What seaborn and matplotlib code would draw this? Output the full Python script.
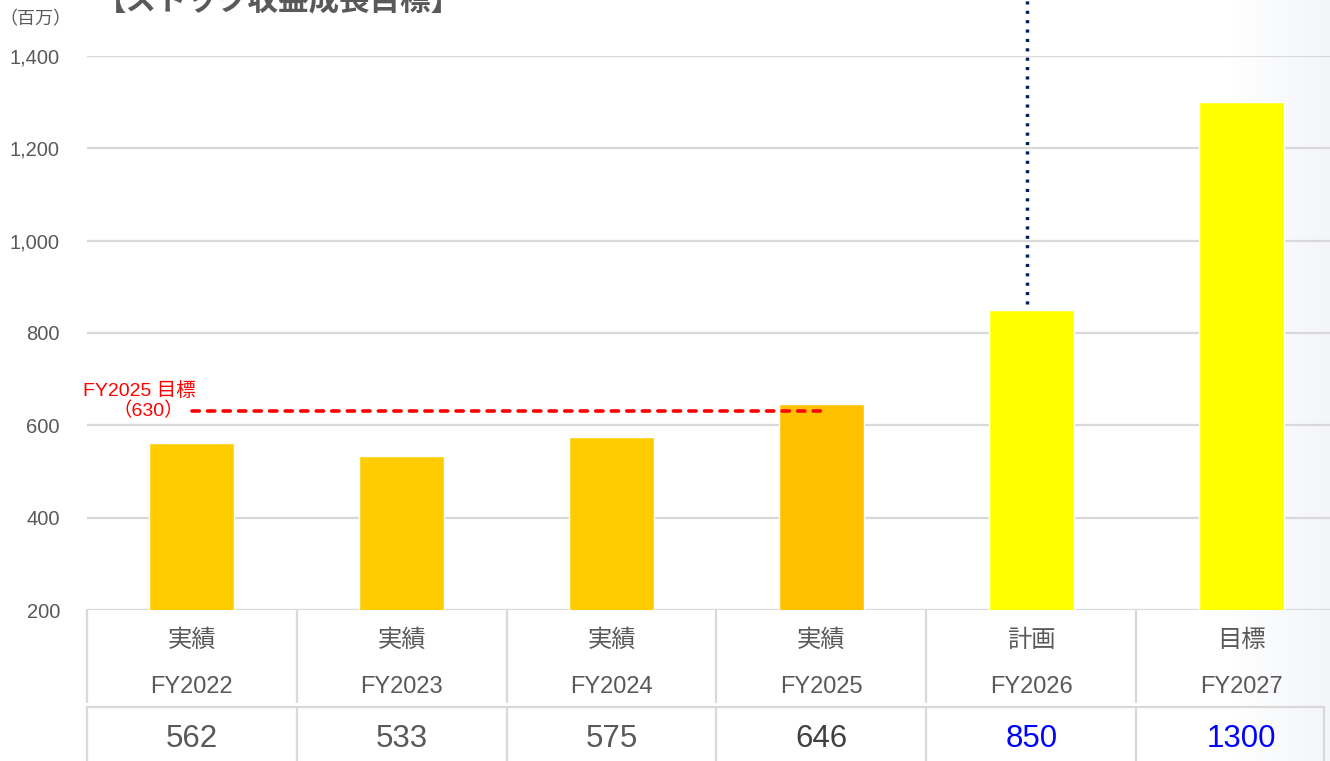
import numpy as np
import pandas as pd
import matplotlib
matplotlib.use("Agg")
import matplotlib.pyplot as plt
from matplotlib.colors import LinearSegmentedColormap
import seaborn as sns

# ---- data ----
years = ["FY2022", "FY2023", "FY2024", "FY2025", "FY2026", "FY2027"]
kinds = ["実績", "実績", "実績", "実績", "計画", "目標"]
revenue = [562, 533, 575, 646, 850, 1300]
value_labels = ["562", "533", "575", "646", "850", "1300"]
bar_colors = ["#FFCC00", "#FFCC00", "#FFCC00", "#FFC000", "#FFFF00", "#FFFF00"]
value_colors = ["#595959", "#595959", "#595959", "#404040", "#0000FF", "#0000FF"]
target_fy2025 = 630
y_ticks = [200, 400, 600, 800, 1000, 1200, 1400]

sns.set_theme(style="white")
plt.rcParams["font.family"] = ["Liberation Sans", "Noto Sans CJK JP", "DejaVu Sans"]

W, H = 1330, 761
fig = plt.figure(figsize=(W / 100, H / 100), dpi=100)
fig.patch.set_facecolor("white")

# faint bluish shade along the right edge
bg = fig.add_axes([1230 / W, 0, 100 / W, 1], zorder=-5)
grad = np.linspace(0, 1, 100).reshape(1, -1)
cm = LinearSegmentedColormap.from_list("edge", ["#FFFFFF", "#F3F5F9"])
bg.imshow(grad, aspect="auto", cmap=cm, extent=[0, 1, 0, 1])
bg.set_axis_off()

ax_left, ax_w = 87 / W, 1259 / W
ax = fig.add_axes([ax_left, 151 / H, ax_w, 554 / H])
ax.patch.set_alpha(0)

df = pd.DataFrame({"year": years, "revenue": revenue})
sns.barplot(data=df, x="year", y="revenue", hue="year", palette=bar_colors,
            width=0.405, legend=False, ax=ax, saturation=1, zorder=3)

ax.set_xlim(-0.5, 5.5)
ax.set_ylim(200, 1400)
ax.set_yticks(y_ticks)
ax.set_yticklabels([f"{v:,}" for v in y_ticks], fontsize=14.5, color="#595959")
ax.set_xticks([])
ax.set_xlabel("")
ax.set_ylabel("")
ax.tick_params(axis="y", length=0, pad=19.5)
for s in ax.spines.values():
    s.set_visible(False)
ax.grid(axis="y", color="#D9D9D9", linewidth=1.6, zorder=0)
ax.set_axisbelow(True)

# FY2025 target line
ax.plot([0, 3.0], [target_fy2025, target_fy2025], color="#FF0000", lw=2.6,
        linestyle=(0, (2.0, 2.3)), dash_capstyle="round", zorder=4)
ax.text(-0.25, 675, "FY2025 目標", color="#FF0000", fontsize=14,
        ha="center", va="center")
ax.text(-0.21, 632, "（630）", color="#FF0000", fontsize=14,
        ha="center", va="center")

# dotted pointer down to the FY2026 plan bar
ax.plot([3.98, 3.98], [862, 1530], color="#002060", lw=2.5,
        linestyle=(0, (0.9, 1.8)), dash_capstyle="butt", clip_on=False, zorder=4)

# unit and title
fig.text(35 / W, 1 - 20 / H, "（百万）", fontsize=13, color="#595959",
         ha="center", va="center")
fig.text(96 / W, 1 - 10 / H, "【ストック収益成長目標】", fontsize=22,
         fontweight="bold", color="#595959", ha="left", va="baseline")

# category table under the bars
tab = fig.add_axes([ax_left, 0, ax_w, 151 / H])
tab.set_xlim(-0.5, 5.5)
tab.set_ylim(0, 151)
tab.set_axis_off()
line_kw = dict(color="#D9D9D9", lw=1.6, clip_on=False)
for b in np.arange(-0.5, 5, 1.0):
    tab.plot([b, b], [59, 151], **line_kw)
row2_right = 5.395
tab.plot([-0.5, row2_right], [54, 54], **line_kw)
for b in list(np.arange(-0.5, 5, 1.0)) + [row2_right]:
    tab.plot([b, b], [0, 54], **line_kw)

for i, (k, y, v, c) in enumerate(zip(kinds, years, value_labels, value_colors)):
    tab.text(i, 120, k, fontsize=17.5, color="#595959", ha="center", va="center")
    tab.text(i, 74, y, fontsize=17, color="#595959", ha="center", va="center")
    tab.text(i, 22, v, fontsize=22.5, color=c, ha="center", va="center")

fig.savefig("out.png", dpi=100)
